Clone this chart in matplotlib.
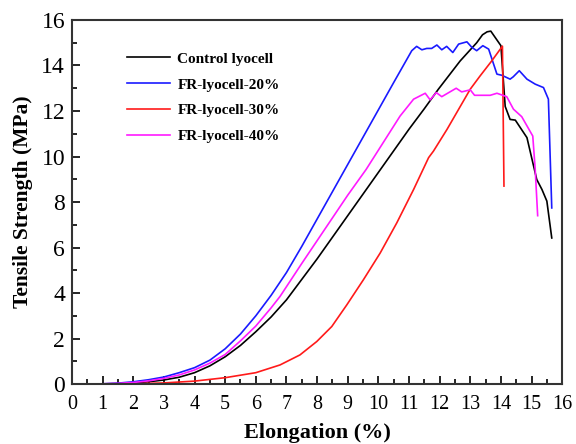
import matplotlib
matplotlib.use('Agg')
import matplotlib.pyplot as plt
from matplotlib.ticker import MultipleLocator

plt.rcParams['font.family'] = ['Liberation Serif', 'DejaVu Serif']

# Control lyocell
ctrl_x = [0.5, 1, 1.5, 2, 2.5, 3, 3.5, 4, 4.5, 5, 5.5, 6, 6.5, 7, 7.5, 8, 8.5, 9, 9.5, 10,
          10.5, 11, 11.5, 11.96, 12.67, 13.21, 13.4, 13.55, 13.67, 14.0, 14.14, 14.3, 14.47,
          14.85, 15.17, 15.34, 15.5, 15.66]
ctrl_y = [0, 0.01, 0.02, 0.05, 0.1, 0.18, 0.3, 0.5, 0.8, 1.2, 1.7, 2.3, 2.95, 3.7, 4.6,
          5.5, 6.45, 7.4, 8.35, 9.3, 10.25, 11.2, 12.1, 12.96, 14.2, 15.0, 15.35, 15.48,
          15.51, 14.87, 12.2, 11.63, 11.6, 10.83, 8.99, 8.55, 8.04, 6.42]

# FR-lyocell-20%
fr20_x = [0.5, 1, 1.5, 2, 2.5, 3, 3.5, 4, 4.5, 5, 5.5, 6, 6.5, 7, 7.5, 8, 8.5, 9, 9.5, 10,
          10.5, 11.09, 11.25, 11.42, 11.58, 11.74, 11.91, 12.07, 12.23, 12.43, 12.62, 12.89,
          13.05, 13.21, 13.41, 13.6, 13.87, 14.03, 14.3, 14.4, 14.6, 14.85, 15.12, 15.39,
          15.55, 15.66]
fr20_y = [0, 0.01, 0.04, 0.1, 0.19, 0.31, 0.5, 0.72, 1.05, 1.55, 2.2, 3.0, 3.9, 4.9,
          6.05, 7.25, 8.45, 9.65, 10.85, 12.05, 13.25, 14.65, 14.84, 14.69, 14.75, 14.75,
          14.9, 14.69, 14.84, 14.57, 14.94, 15.04, 14.8, 14.65, 14.87, 14.72, 13.62, 13.57,
          13.4, 13.5, 13.77, 13.4, 13.18, 13.03, 12.52, 7.74]

# FR-lyocell-30%
fr30_x = [0.5, 1, 2, 3, 4, 5, 6, 6.79, 7.44, 7.99, 8.48, 8.97, 9.51, 10.06, 10.6, 11.15,
          11.64, 11.8, 12.24, 13.0, 13.32, 13.7, 14.05, 14.1]
fr30_y = [0, 0.0, 0.01, 0.05, 0.13, 0.28, 0.5, 0.84, 1.28, 1.87, 2.53, 3.48, 4.58, 5.76,
          7.08, 8.55, 9.95, 10.24, 11.19, 12.96, 13.54, 14.2, 14.85, 8.7]

# FR-lyocell-40%
fr40_x = [0.5, 1, 1.5, 2, 2.5, 3, 3.5, 4, 4.5, 5, 5.5, 6, 6.5, 6.79, 7.5, 8, 8.5, 9, 9.6,
          10.2, 10.71, 11.15, 11.53, 11.69, 11.89, 12.07, 12.54, 12.72, 13.0, 13.14, 13.65,
          13.87, 14.19, 14.41, 14.68, 15.04, 15.12, 15.2]
fr40_y = [0, 0.01, 0.03, 0.07, 0.14, 0.25, 0.4, 0.62, 0.92, 1.3, 1.9, 2.55, 3.35, 3.85, 5.3,
          6.3, 7.3, 8.3, 9.43, 10.7, 11.78, 12.52, 12.78, 12.49, 12.81, 12.63, 13.0, 12.84,
          12.93, 12.69, 12.69, 12.78, 12.63, 12.08, 11.75, 10.9, 9.43, 7.4]

fig = plt.figure(figsize=(5.76, 4.44), dpi=100)
ax = fig.add_axes([0.125, 0.135, 0.851, 0.82])

ax.plot(ctrl_x, ctrl_y, color='black', lw=1.2, label='Control lyocell')
ax.plot(fr20_x, fr20_y, color='#1a1aff', lw=1.2, label='FR-lyocell-20%')
ax.plot(fr30_x, fr30_y, color='#ff1a1a', lw=1.2, label='FR-lyocell-30%')
ax.plot(fr40_x, fr40_y, color='#ff1aff', lw=1.2, label='FR-lyocell-40%')

ax.set_xlim(0, 16)
ax.set_ylim(0, 16)
ax.xaxis.set_major_locator(MultipleLocator(1))
ax.xaxis.set_minor_locator(MultipleLocator(0.5))
ax.yaxis.set_major_locator(MultipleLocator(2))
ax.yaxis.set_minor_locator(MultipleLocator(1))
ax.tick_params(which='both', direction='in', top=False, right=False)
ax.tick_params(which='major', length=6, width=1.2)
ax.tick_params(which='minor', length=3.5, width=1.2)
ax.tick_params(axis='x', labelsize=14.5, pad=8)
ax.tick_params(axis='y', labelsize=17, pad=5)
for s in ax.spines.values():
    s.set_linewidth(1.5)
    s.set_color('#333333')

ax.set_xlabel('Elongation (%)', fontsize=16, fontweight='bold', labelpad=6)
ax.set_ylabel('Tensile Strength (MPa)', fontsize=15.5, fontweight='bold', labelpad=6)

leg = ax.legend(loc='upper left', bbox_to_anchor=(0.084, 0.95), frameon=False,
                prop={'weight': 'bold', 'size': 11}, handlelength=2.8,
                handletextpad=0.5, labelspacing=0.8)

fig.savefig('out.png', dpi=100)
